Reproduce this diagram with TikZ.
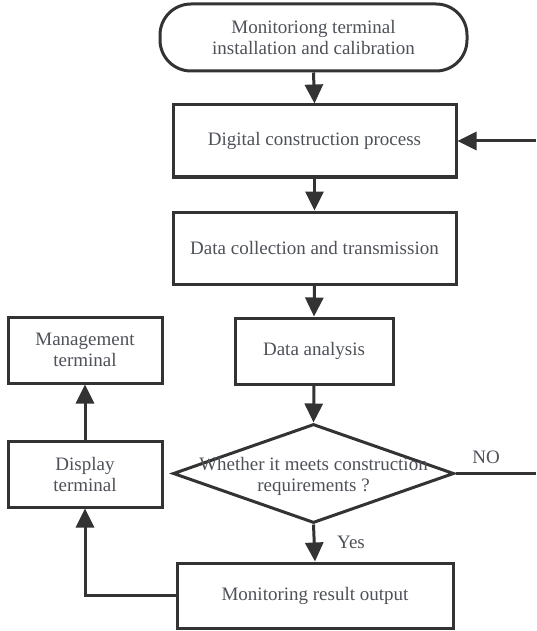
\documentclass[tikz,border=0pt]{standalone}
\usepackage{fontspec}
\setmainfont{Liberation Serif}
\usetikzlibrary{shapes.geometric,arrows.meta}
\definecolor{linec}{HTML}{333333}
\definecolor{textc}{HTML}{4E5158}
\begin{document}
\begin{tikzpicture}[x=1pt,y=-1pt,
  every node/.style={font=\fontsize{19}{21}\selectfont, text=textc, align=center},
  box/.style={draw=linec, line width=3pt, rectangle, inner sep=0pt},
  conn/.style={draw=linec, line width=3pt, -{Triangle[length=19pt,width=18pt]}},
  plain/.style={draw=linec, line width=3pt}
]
\useasboundingbox (0,0) rectangle (536,631);
\node[box, rounded corners=31pt, minimum width=307pt, minimum height=67pt] (start) at (313.5,37.5) {Monitoriong terminal\\installation and calibration};
\node[box, minimum width=283pt, minimum height=72pt] (digital) at (314.5,141) {Digital construction process};
\node[box, minimum width=283pt, minimum height=72pt] (collect) at (314.5,248) {Data collection and transmission};
\node[box, minimum width=158pt, minimum height=66pt] (analysis) at (314,351) {Data analysis};
\node[draw=linec, line width=3pt, diamond, inner sep=0pt, minimum width=281pt, minimum height=99pt] (dec) at (313.5,473.5) {};
\node (dectext) at (313.5,476) {Whether it meets construction\\requirements ?};
\node[box, minimum width=276pt, minimum height=65pt] (output) at (315,595.5) {Monitoring result output};
\node[box, minimum width=154pt, minimum height=66pt] (display) at (85,474) {Display\\terminal};
\node[box, minimum width=154pt, minimum height=66pt] (mgmt) at (85,350) {Management\\terminal};
\coordinate (backin) at (536,141);
\coordinate (noend) at (536,473.5);
\node (nolbl) at (486,457) {NO};
\node (yeslbl) at (351,542) {Yes};
\draw[conn] (start.south) -- (digital.north);
\draw[conn] (backin) -- (digital.east);
\draw[conn] (digital.south) -- (collect.north);
\draw[conn] (collect.south) -- (analysis.north);
\draw[conn] (analysis.south) -- (dec.north);
\draw[plain] (dec.east) -- (noend);
\draw[conn] (dec.south) -- (output.north);
\draw[conn] (output.west) -| (display.south);
\draw[conn] (display.north) -- (mgmt.south);
\end{tikzpicture}
\end{document}
